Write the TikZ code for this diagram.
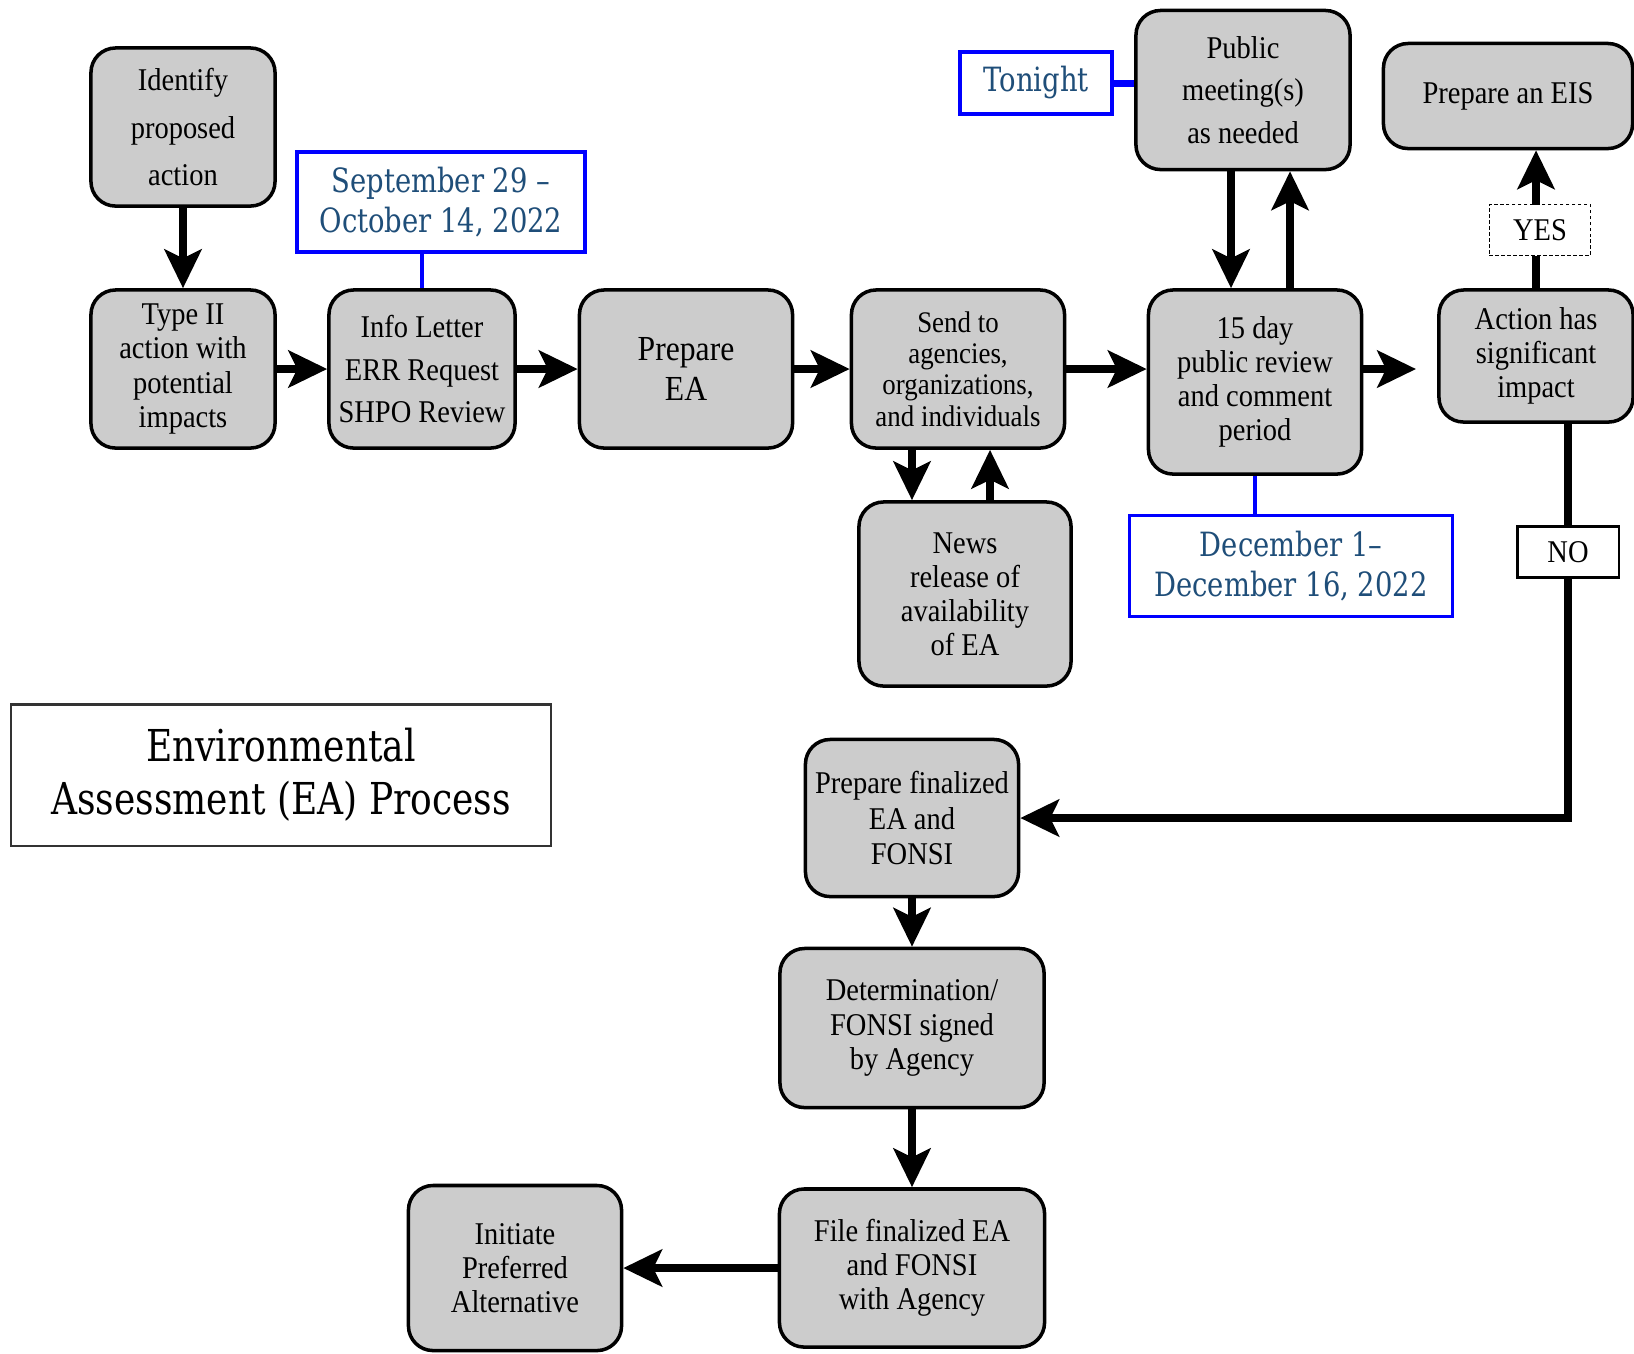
\documentclass[tikz,border=0pt]{standalone}
\usepackage{fontspec}
\setmainfont{Liberation Serif}[FakeStretch=0.9]
\newfontfamily\datefont{DejaVu Serif}[FakeStretch=0.82]
\usetikzlibrary{arrows.meta}
\definecolor{datetext}{HTML}{1F4E79}
\tikzset{
  box/.style={draw, line width=1pt, rounded corners=7pt, fill=gray!40, align=center, inner sep=2pt, font=\fontsize{9}{9.7}\selectfont},
  datebox/.style={draw=blue, line width=1pt, fill=white, align=center, text=datetext, font=\datefont\fontsize{9.5}{11.3}\selectfont},
  tag/.style={draw, fill=white, line width=0.6pt, minimum width=1.01cm, minimum height=0.51cm, font=\fontsize{9}{9}\selectfont},
  arr/.style={line width=2.4pt, -{Stealth[length=11pt,width=10.5pt,inset=2.5pt]}},
  blueline/.style={draw=blue, line width=1pt}
}
\begin{document}
\begin{tikzpicture}[x=0.01cm,y=-0.01cm]
\clip (0,0) rectangle (1634,1353);

\node[box, minimum width=1.84cm, minimum height=1.58cm, font=\fontsize{9}{13.4}\selectfont] (identify) at (183,127) {Identify\\proposed\\action};
\node[box, minimum width=1.84cm, minimum height=1.58cm] (type2) at (183,369) {Type II\\action with\\potential\\impacts};
\node[box, minimum width=1.86cm, minimum height=1.58cm, font=\fontsize{9}{12}\selectfont] (info) at (422,369) {Info Letter\\ERR Request\\SHPO Review};
\node[box, minimum width=2.13cm, minimum height=1.58cm, font=\fontsize{10}{11.4}\selectfont] (prepea) at (686,369) {Prepare\\EA};
\node[box, minimum width=2.13cm, minimum height=1.58cm, font=\fontsize{8.5}{8.9}\selectfont] (send) at (958,369) {Send to\\agencies,\\organizations,\\and individuals};
\node[box, minimum width=2.12cm, minimum height=1.84cm] (news) at (965,594) {News\\release of\\availability\\of EA};
\node[box, minimum width=2.13cm, minimum height=1.84cm] (review) at (1255,382) {15 day\\public review\\and comment\\period};
\node[box, minimum width=2.14cm, minimum height=1.59cm, font=\fontsize{9}{12}\selectfont] (public) at (1243,90) {Public\\meeting(s)\\as needed};
\node[box, minimum width=2.49cm, minimum height=1.05cm] (eis) at (1508,96) {Prepare an EIS};
\node[box, minimum width=1.94cm, minimum height=1.32cm] (action) at (1536,356) {Action has\\significant\\impact};
\node[box, minimum width=2.13cm, minimum height=1.57cm, font=\fontsize{9}{10.2}\selectfont] (final) at (912,818) {Prepare finalized\\EA and\\FONSI};
\node[box, minimum width=2.64cm, minimum height=1.59cm] (determ) at (912,1028) {Determination/\\FONSI signed\\by Agency};
\node[box, minimum width=2.65cm, minimum height=1.58cm] (file) at (912,1268) {File finalized EA\\and FONSI\\with Agency};
\node[box, minimum width=2.13cm, minimum height=1.65cm] (initiate) at (515,1268) {Initiate\\Preferred\\Alternative};

\node[datebox, minimum width=2.88cm, minimum height=1.0cm] (sept) at (441,202) {September 29 –\\October 14, 2022};
\node[datebox, minimum width=1.52cm, minimum height=0.62cm] (tonight) at (1036,83) {Tonight};
\node[datebox, minimum width=3.23cm, minimum height=1.01cm] (dec) at (1291,566) {December 1–\\December 16, 2022};

\node[draw=black!80, line width=0.6pt, minimum width=5.4cm, minimum height=1.41cm, align=center, font=\datefont\fontsize{12.5}{15}\selectfont] (title) at (281,775) {Environmental\\Assessment (EA) Process};

\draw[arr] (identify) -- (type2);
\draw[arr] (type2) -- (info);
\draw[arr] (info) -- (prepea);
\draw[arr] (prepea) -- (send);
\draw[arr] (send.east) -- (send.east -| review.west);
\coordinate (out) at (1416,369);
\draw[arr] (out -| review.east) -- (out);
\draw[arr] ([xshift=-0.46cm]send.south) -- ([xshift=-0.46cm]send.south |- news.north);
\draw[arr] ([xshift=0.25cm]news.north) -- ([xshift=0.25cm]news.north |- send.south);
\draw[arr] ([xshift=-0.12cm]public.south) -- ([xshift=-0.12cm]public.south |- review.north);
\draw[arr] ([xshift=0.35cm]review.north) -- ([xshift=0.35cm]review.north |- public.south);
\draw[arr] (action.north) -- (action.north |- eis.south);
\draw[arr] ([xshift=0.32cm]action.south) |- (final.east);
\draw[arr] (final) -- (determ);
\draw[arr] (determ) -- (file);
\draw[arr] (file) -- (initiate);

\draw[blueline] (info.north) -- (info.north |- sept.south);
\draw[blueline, line width=2pt] (tonight.east) -- (tonight.east -| public.west);
\draw[blueline] (review.south) -- (review.south |- dec.north);

\node[tag, line width=0.5pt, dash pattern=on 1pt off 0.7pt] (yes) at (1540,230) {YES};
\node[tag] (no) at (1568,552) {NO};
\end{tikzpicture}
\end{document}
